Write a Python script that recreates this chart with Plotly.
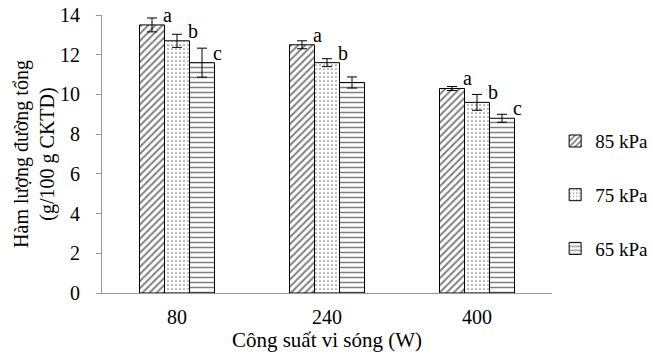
import plotly.graph_objects as go

categories = ["80", "240", "400"]
series_names = ["85 kPa", "75 kPa", "65 kPa"]
values_85 = [13.5, 12.5, 10.3]
values_75 = [12.7, 11.6, 9.6]
values_65 = [11.6, 10.6, 8.8]
err_85 = [0.35, 0.2, 0.1]
err_75 = [0.33, 0.2, 0.4]
err_65 = [0.73, 0.28, 0.2]
letters_85 = ["a", "a", "a"]
letters_75 = ["b", "b", "b"]
letters_65 = ["c", "", "c"]
y_ticks = [0, 2, 4, 6, 8, 10, 12, 14]

FONT = "Liberation Serif"
FS = 20
values = [values_85, values_75, values_65]
errs = [err_85, err_75, err_65]
letters = [letters_85, letters_75, letters_65]
patterns = [dict(shape="/", size=5, solidity=0.4),
            dict(shape=".", size=4, solidity=0.15),
            dict(shape="-", size=5, solidity=0.3)]
xpos = list(range(len(categories)))

L, R, T, B = 102, 101, 15, 62

fig = go.Figure()
for i in range(3):
    fig.add_trace(go.Bar(
        x=xpos, y=values[i], name=series_names[i],
        legendgroup=series_names[i],
        marker=dict(color="white", line=dict(color="black", width=1),
                    pattern=dict(fillmode="overlay", bgcolor="white", fgcolor="black", **patterns[i])),
        error_y=dict(type="data", array=errs[i], color="black", thickness=1, width=5, visible=True),
    ))

plot_w = 653 - L - R
bw = plot_w / 3 / 6  # bar width in px (group = half of category)
annotations = []
for i in range(3):
    for j in xpos:
        if letters[i][j]:
            annotations.append(dict(
                x=j, y=values[i][j], xref="x", yref="y",
                text=letters[i][j], showarrow=False,
                xshift=(i - 1) * bw + bw / 2 + 3, yshift=10,
                yanchor="middle", xanchor="center",
                font=dict(family=FONT, size=FS, color="black")))

fig.update_layout(
    width=653, height=355,
    margin=dict(l=L, r=R, t=T, b=B, autoexpand=False),
    paper_bgcolor="white", plot_bgcolor="white",
    barmode="group", bargap=0.5, bargroupgap=0,
    font=dict(family=FONT, size=FS, color="black"),
    showlegend=True,
    legend=dict(x=1.007, xanchor="left", y=0.352, yanchor="middle",
                tracegroupgap=26, font=dict(family=FONT, size=19),
                itemwidth=30),
    annotations=annotations,
    xaxis=dict(range=[-0.5, 2.5], tickvals=xpos, ticktext=categories, automargin=False,
               showline=True, linecolor="#999999", linewidth=1, ticks="", showgrid=False, zeroline=False,
               ticklabelstandoff=6,
               title=dict(text="Công suất vi sóng (W)", standoff=2,
                          font=dict(family=FONT, size=21))),
    yaxis=dict(range=[0, 14], tickvals=y_ticks, showgrid=False, zeroline=False, automargin=False,
               showline=True, linecolor="#999999", linewidth=1,
               ticks="outside", ticklen=5, tickcolor="#999999", ticklabelstandoff=12,
               title=dict(text="Hàm lượng đường tổng<br>(g/100 g CKTD)", standoff=0,
                          font=dict(family=FONT, size=FS))),
)

fig.write_html("out.html", config={"displayModeBar": False},
               post_script="document.body.style.margin='0';")
